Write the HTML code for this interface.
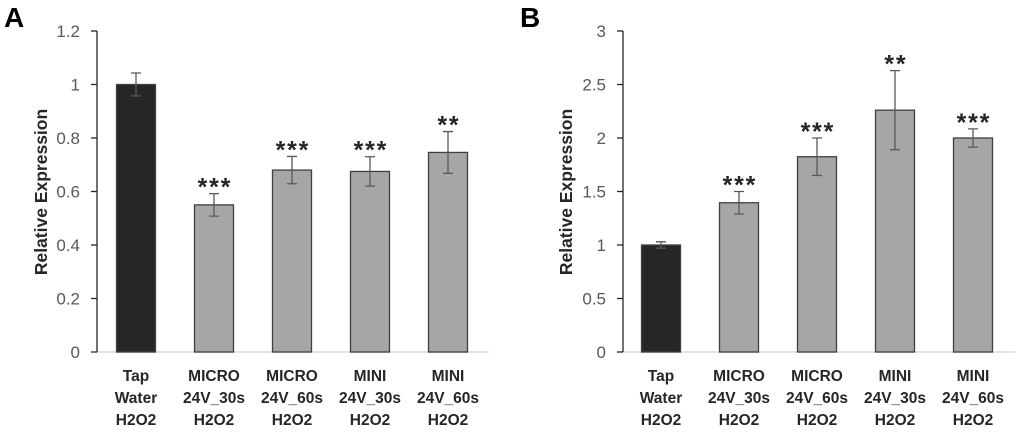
<!DOCTYPE html>
<html><head><meta charset="utf-8">
<style>
html,body{margin:0;padding:0;background:#fff;width:1020px;height:434px;overflow:hidden}
svg{display:block;font-family:"Liberation Sans",sans-serif}
.tick{font-size:17px;fill:#595959}
.cat{font-size:15.5px;font-weight:bold;fill:#262626}
.ttl{font-size:17.5px;font-weight:bold;fill:#262626}
.star{font-size:25px;font-weight:bold;fill:#262626}
.panel{font-size:28px;font-weight:bold;fill:#000}
</style></head>
<body>
<svg id="chart" width="1020" height="434"></svg>
<script>
const categories = [["Tap","Water","H2O2"],["MICRO","24V_30s","H2O2"],["MICRO","24V_60s","H2O2"],["MINI","24V_30s","H2O2"],["MINI","24V_60s","H2O2"]];
const valuesA = [1.0, 0.55, 0.68, 0.675, 0.746];
const errorsA = [0.043, 0.042, 0.051, 0.055, 0.078];
const starsA = ["", "***", "***", "***", "**"];
const ticksA = [0, 0.2, 0.4, 0.6, 0.8, 1, 1.2];
const valuesB = [1.0, 1.395, 1.825, 2.26, 2.0];
const errorsB = [0.03, 0.105, 0.175, 0.37, 0.085];
const starsB = ["", "***", "***", "**", "***"];
const ticksB = [0, 0.5, 1, 1.5, 2, 2.5, 3];

const svg = document.getElementById('chart');
const NS = 'http://www.w3.org/2000/svg';
function mk(tag, attrs, parent){const e=document.createElementNS(NS,tag);for(const k in attrs)e.setAttribute(k,attrs[k]);(parent||svg).appendChild(e);return e;}

function panel(opt){
  const g = mk('g',{});
  
  
  const y0=352, y1=31;
  const ymax = opt.ticks[opt.ticks.length-1];
  const ys = v => y0 - v/ymax*(y0-y1);
  const xs = i => opt.x0 + i*78;
  const lbl = mk('text',{x:opt.lx,y:27,class:'panel'},g); lbl.textContent=opt.letter;
  
  
  const base = mk('line',{x1:opt.ax,x2:opt.ax+392,y1:y0,y2:y0,stroke:'#d9d9d9','stroke-width':1.5},g);
  
  
  const yax = mk('line',{x1:opt.ax,x2:opt.ax,y1:y1,y2:y0,stroke:'#262626','stroke-width':1.3},g);
  
  
  opt.ticks.forEach(t=>{
    const y=ys(t);
    const tl = mk('line',{x1:opt.ax-6,x2:opt.ax,y1:y,y2:y,stroke:'#262626','stroke-width':1.3},g);
    
    
    const tx = mk('text',{x:opt.ax-17,y:y+6,class:'tick','text-anchor':'end'},g);
    tx.textContent=String(t);
    
    
  });
  const tt = mk('text',{x:0,y:0,class:'ttl','text-anchor':'middle',transform:`translate(${opt.tx},192) rotate(-90)`},g);
  tt.textContent='Relative Expression';
  
  
  opt.values.forEach((v,i)=>{
    const cx=xs(i), top=ys(v);
    const r = mk('rect',{x:cx-19.5,y:top,width:39,height:y0-top,fill:i===0?'#262626':'#a6a6a6',stroke:'#404040','stroke-width':1.3},g);
    
    
    const eT=ys(v+opt.errors[i]), eB=ys(v-opt.errors[i]);
    const eb = mk('path',{d:`M${cx},${eT}V${eB}M${cx-5},${eT}H${cx+5}M${cx-5},${eB}H${cx+5}`,stroke:'#595959','stroke-width':1.3,fill:'none'},g);
    
    
    const n = opt.stars[i].length;
    for(let k=0;k<n;k++){
      const sx = cx + (k-(n-1)/2)*11.5;
      const s = mk('text',{x:sx,y:eT+2,class:'star','text-anchor':'middle'},g);
      s.textContent='*';
      
      
    }
    categories[i].forEach((line,j)=>{
      const c = mk('text',{x:cx,y:381+j*22,class:'cat','text-anchor':'middle'},g);
      c.textContent=line;
      
      
    });
  });
}
panel({name:'panel-a',letter:'A',lx:4,ax:97,x0:136,tx:47,values:valuesA,errors:errorsA,stars:starsA,ticks:ticksA});
panel({name:'panel-b',letter:'B',lx:520,ax:623,x0:661,tx:572,values:valuesB,errors:errorsB,stars:starsB,ticks:ticksB});
</script>
</body></html>
